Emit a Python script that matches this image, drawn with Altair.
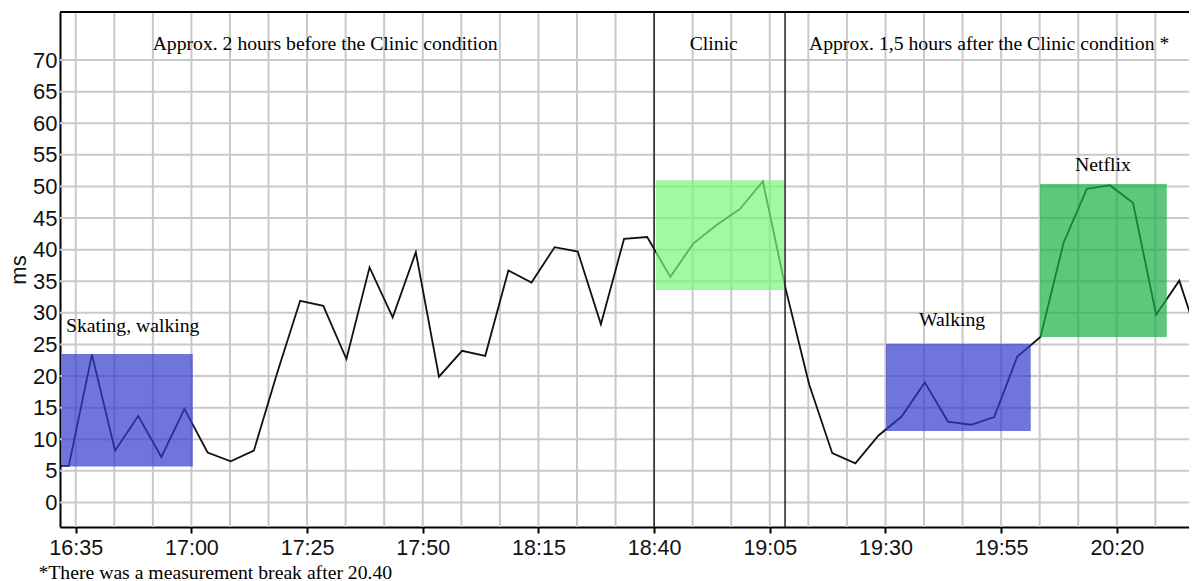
import altair as alt
import pandas as pd

# ---- data (minutes since midnight, ms values) ----
times = [988.5, 993.5, 998.5, 1003.5, 1008.5, 1013.5, 1018.5, 1023.5, 1028.5, 1033.5,
         1038.5, 1043.5, 1048.5, 1053.5, 1058.5, 1063.5, 1068.5, 1073.5, 1078.5, 1083.5,
         1088.5, 1093.5, 1098.5, 1103.5, 1108.5, 1113.5, 1118.5, 1123.5, 1128.5, 1133.5,
         1138.5, 1143.5, 1148.5, 1153.5, 1158.5, 1163.5, 1168.5, 1173.5, 1178.5, 1183.5,
         1188.5, 1193.5, 1198.5, 1203.5, 1208.5, 1213.5, 1218.5, 1223.5, 1228.5, 1233.5,
         1238.5]
values = [5.8, 5.8, 23.4, 8.2, 13.7, 7.2, 14.8, 7.9, 6.5, 8.2,
          20.4, 31.9, 31.1, 22.7, 37.2, 29.3, 39.6, 19.9, 24.0, 23.2,
          36.7, 34.8, 40.4, 39.7, 28.2, 41.7, 42.0, 35.7, 41.0, 43.9,
          46.4, 50.8, 33.6, 18.7, 7.8, 6.2, 10.6, 13.6, 19.0, 12.8,
          12.3, 13.5, 23.1, 26.2, 41.1, 49.6, 50.2, 47.4, 29.7, 35.1,
          24.0]

x_tick_values = [995, 1020, 1045, 1070, 1095, 1120, 1145, 1170, 1195, 1220]
y_tick_values = [0, 5, 10, 15, 20, 25, 30, 35, 40, 45, 50, 55, 60, 65, 70]
x_grid_values = [995, 1003.33, 1011.67, 1020, 1028.33, 1036.67, 1045, 1053.33, 1061.67,
                 1070, 1078.33, 1086.67, 1095, 1103.33, 1111.67, 1120, 1128.33, 1136.67,
                 1145, 1153.33, 1161.67, 1170, 1178.33, 1186.67, 1195, 1203.33, 1211.67,
                 1220, 1228.33]

box_start = [992.0, 1120.4, 1170.1, 1203.4]
box_end = [1020.3, 1148.2, 1201.4, 1230.8]
box_low = [5.7, 33.6, 11.3, 26.2]
box_high = [23.5, 51.0, 25.1, 50.4]
box_kind = ["activity", "clinic", "activity", "netflix"]

divider_times = [1120, 1148.3]

center_labels = ["Approx. 2 hours before the Clinic condition", "Clinic",
                 "Approx. 1,5 hours after the Clinic condition *", "Walking", "Netflix"]
center_label_t = [1048.9, 1132.9, 1192.4, 1184.4, 1217.0]
center_label_v = [71.6, 71.6, 71.6, 27.9, 52.4]
left_labels = ["Skating, walking"]
left_label_t = [992.9]
left_label_v = [27.0]

footnote = "*There was a measurement break after 20.40"

X_DOMAIN = [991.6, 1235.6]
Y_DOMAIN = [-3.88, 77.6]

# ---- chart ----
xs = alt.Scale(domain=X_DOMAIN, nice=False, zero=False)
ys = alt.Scale(domain=Y_DOMAIN, nice=False, zero=False)
SANS = "Liberation Sans"
SERIF = "Liberation Serif"
SERIF_SIZE = 19.7

x_axis = alt.Axis(
    values=x_tick_values,
    labelExpr="floor(datum.value / 60) + ':' + (datum.value % 60 < 10 ? '0' : '') + (datum.value % 60)",
    grid=False, domainColor="black", domainWidth=2, tickColor="black", tickWidth=2,
    tickSize=6, labelFont=SANS, labelFontSize=21.5, labelColor="#111111", labelPadding=4,
    labelFlush=False, labelOverlap=False,
    title=footnote, titleFont=SERIF, titleFontSize=SERIF_SIZE, titleFontWeight="normal",
    titleColor="black", titleAnchor="start", titleAlign="left", titleX=-22, titleY=51,
    titleBaseline="alphabetic")
y_axis = alt.Axis(
    values=y_tick_values, grid=False, ticks=False, domainColor="black", domainWidth=2,
    labelFont=SANS, labelFontSize=22, labelColor="#111111", labelPadding=3,
    title="ms", titleFont=SANS, titleFontSize=22, titleFontWeight="normal",
    titleColor="#111111", titlePadding=2)

line_df = pd.DataFrame({"t": times, "v": values})
box_df = pd.DataFrame({"t": box_start, "t2": box_end, "lo": box_low, "hi": box_high, "kind": box_kind})
gx_df = pd.DataFrame({"t": x_grid_values})
gy_df = pd.DataFrame({"v": y_tick_values})
div_df = pd.DataFrame({"t": divider_times})
cl_df = pd.DataFrame({"label": center_labels, "t": center_label_t, "v": center_label_v})
ll_df = pd.DataFrame({"label": left_labels, "t": left_label_t, "v": left_label_v})
top_df = pd.DataFrame({"v": [Y_DOMAIN[1]]})

grid_color = "#c9c9c9"


def X(field):
    return alt.X(field, scale=xs, axis=x_axis)


def Y(field):
    return alt.Y(field, scale=ys, axis=y_axis)


grid_v = alt.Chart(gx_df).mark_rule(color=grid_color, strokeWidth=2).encode(x=X("t:Q"))
grid_h = alt.Chart(gy_df).mark_rule(color=grid_color, strokeWidth=2).encode(y=Y("v:Q"))

line = alt.Chart(line_df).mark_line(color="#111111", strokeWidth=1.8, clip=True).encode(
    x=X("t:Q"), y=Y("v:Q"))

boxes = alt.Chart(box_df).mark_rect(opacity=0.7).encode(
    x=X("t:Q"), x2="t2:Q",
    y=Y("lo:Q"), y2="hi:Q",
    color=alt.Color("kind:N", legend=None, scale=alt.Scale(
        domain=["activity", "clinic", "netflix"],
        range=["#323BCA", "#77F877", "#18B045"])),
)

dividers = alt.Chart(div_df).mark_rule(color="#222222", strokeWidth=1.5).encode(x=X("t:Q"))

top_border = alt.Chart(top_df).mark_rule(color="black", strokeWidth=2).encode(y=Y("v:Q"))

center_text = alt.Chart(cl_df).mark_text(
    font=SERIF, fontSize=SERIF_SIZE, color="black", align="center", baseline="alphabetic").encode(
    x=X("t:Q"), y=Y("v:Q"), text="label:N")
left_text = alt.Chart(ll_df).mark_text(
    font=SERIF, fontSize=SERIF_SIZE, color="black", align="left", baseline="alphabetic").encode(
    x=X("t:Q"), y=Y("v:Q"), text="label:N")

chart = alt.layer(grid_v, grid_h, line, boxes, dividers, top_border, center_text, left_text).properties(
    width=1129, height=515,
    autosize=alt.AutoSizeParams(type="none"),
    padding={"left": 52, "top": 4, "right": 0, "bottom": 56},
    background="white",
).configure_view(stroke=None)

chart.save("out.html", embed_options={"renderer": "svg", "actions": False})
